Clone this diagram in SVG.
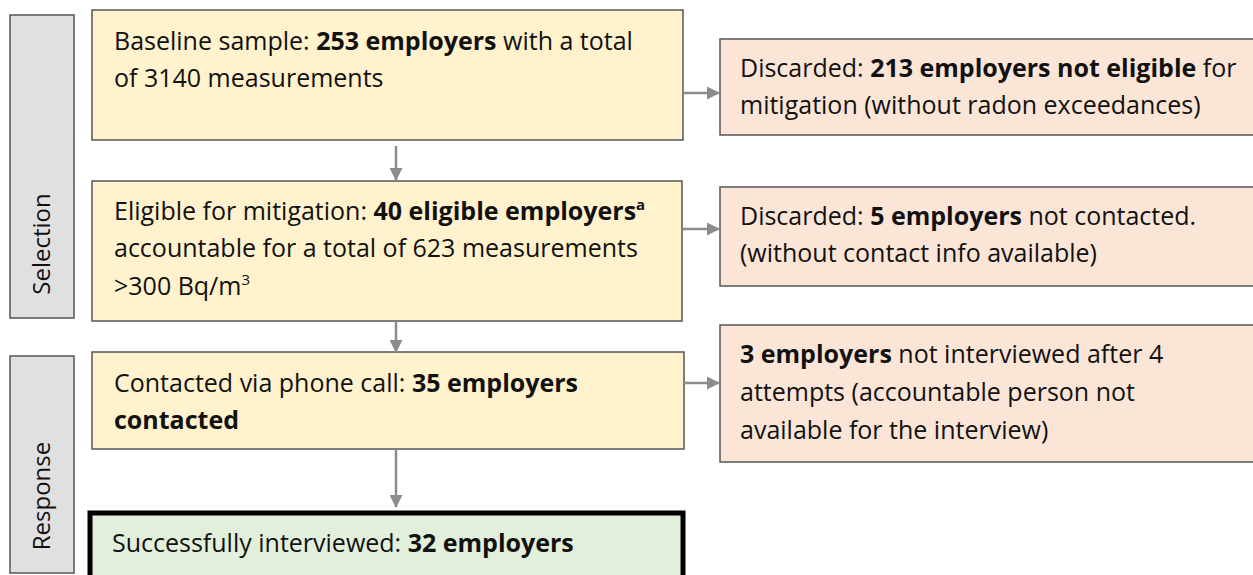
<svg xmlns="http://www.w3.org/2000/svg" width="1253" height="575" viewBox="0 0 1253 575">
<defs>
<marker id="ah" markerWidth="13" markerHeight="13" refX="12" refY="6.5" orient="auto" markerUnits="userSpaceOnUse" viewBox="0 0 13 13">
<path d="M0,0 L13,6.5 L0,13 z" fill="#8c8c8c"/>
</marker>
<style>
text{font-family:"Open Sans","Liberation Sans",Arial,sans-serif;font-size:25px;fill:#111}
.lbl{font-size:24px}
.b{font-weight:bold}
.main{fill:#fff2cc;stroke:#555;stroke-width:1.5}
.disc{fill:#fbe5d6;stroke:#555;stroke-width:1.5}
.lab{fill:#e0e0e0;stroke:#555;stroke-width:1.5}
.ok{fill:#e2efda;stroke:#000;stroke-width:5}
.c{stroke:#8c8c8c;stroke-width:2.5;fill:none;marker-end:url(#ah)}
</style>
</defs>
<rect width="1253" height="575" fill="#fff"/>
<g id="label-selection">
<rect class="lab" x="10" y="15" width="64" height="303"/>
<text class="lbl" transform="translate(50,244) rotate(-90)" text-anchor="middle">Selection</text>
</g>
<g id="label-response">
<rect class="lab" x="10" y="356" width="64" height="217"/>
<text class="lbl" transform="translate(50,496) rotate(-90)" text-anchor="middle">Response</text>
</g>
<g id="baseline">
<rect class="main" x="92" y="10" width="591" height="130"/>
<text x="114" y="50">Baseline sample: <tspan class="b">253 employers</tspan> with a total</text>
<text x="114" y="87">of 3140 measurements</text>
</g>
<g id="eligible">
<rect class="main" x="92" y="181" width="590" height="140"/>
<text x="114" y="220">Eligible for mitigation: <tspan class="b">40 eligible employers</tspan><tspan class="b" font-size="15" dy="-10">a</tspan></text>
<text x="114" y="257">accountable for a total of 623 measurements</text>
<text x="114" y="295">&gt;300 Bq/m<tspan font-size="15" dy="-10">3</tspan></text>
</g>
<g id="contacted">
<rect class="main" x="92" y="352" width="592" height="97"/>
<text x="114" y="392">Contacted via phone call: <tspan class="b">35 employers</tspan></text>
<text x="114" y="429" class="b">contacted</text>
</g>
<g id="interviewed">
<rect class="ok" x="90" y="513" width="593" height="70"/>
<text x="112" y="552">Successfully interviewed: <tspan class="b">32 employers</tspan></text>
</g>
<g id="discarded-213">
<rect class="disc" x="720" y="39" width="540" height="96"/>
<text x="740" y="77">Discarded: <tspan class="b">213 employers not eligible</tspan> for</text>
<text x="740" y="114">mitigation (without radon exceedances)</text>
</g>
<g id="discarded-5">
<rect class="disc" x="720" y="187" width="540" height="99"/>
<text x="740" y="225">Discarded: <tspan class="b">5 employers</tspan> not contacted.</text>
<text x="740" y="262">(without contact info available)</text>
</g>
<g id="not-interviewed">
<rect class="disc" x="720" y="325" width="540" height="137"/>
<text x="740" y="363"><tspan class="b">3 employers</tspan> not interviewed after 4</text>
<text x="740" y="401">attempts (accountable person not</text>
<text x="740" y="439">available for the interview)</text>
</g>
<g id="connectors">
<line class="c" x1="396" y1="146" x2="396" y2="180"/>
<line class="c" x1="396" y1="321" x2="396" y2="352"/>
<line class="c" x1="396" y1="449" x2="396" y2="507"/>
<line class="c" x1="683" y1="93" x2="719" y2="93"/>
<line class="c" x1="683" y1="229" x2="719" y2="229"/>
<line class="c" x1="684" y1="383" x2="719" y2="383"/>
</g>
</svg>
